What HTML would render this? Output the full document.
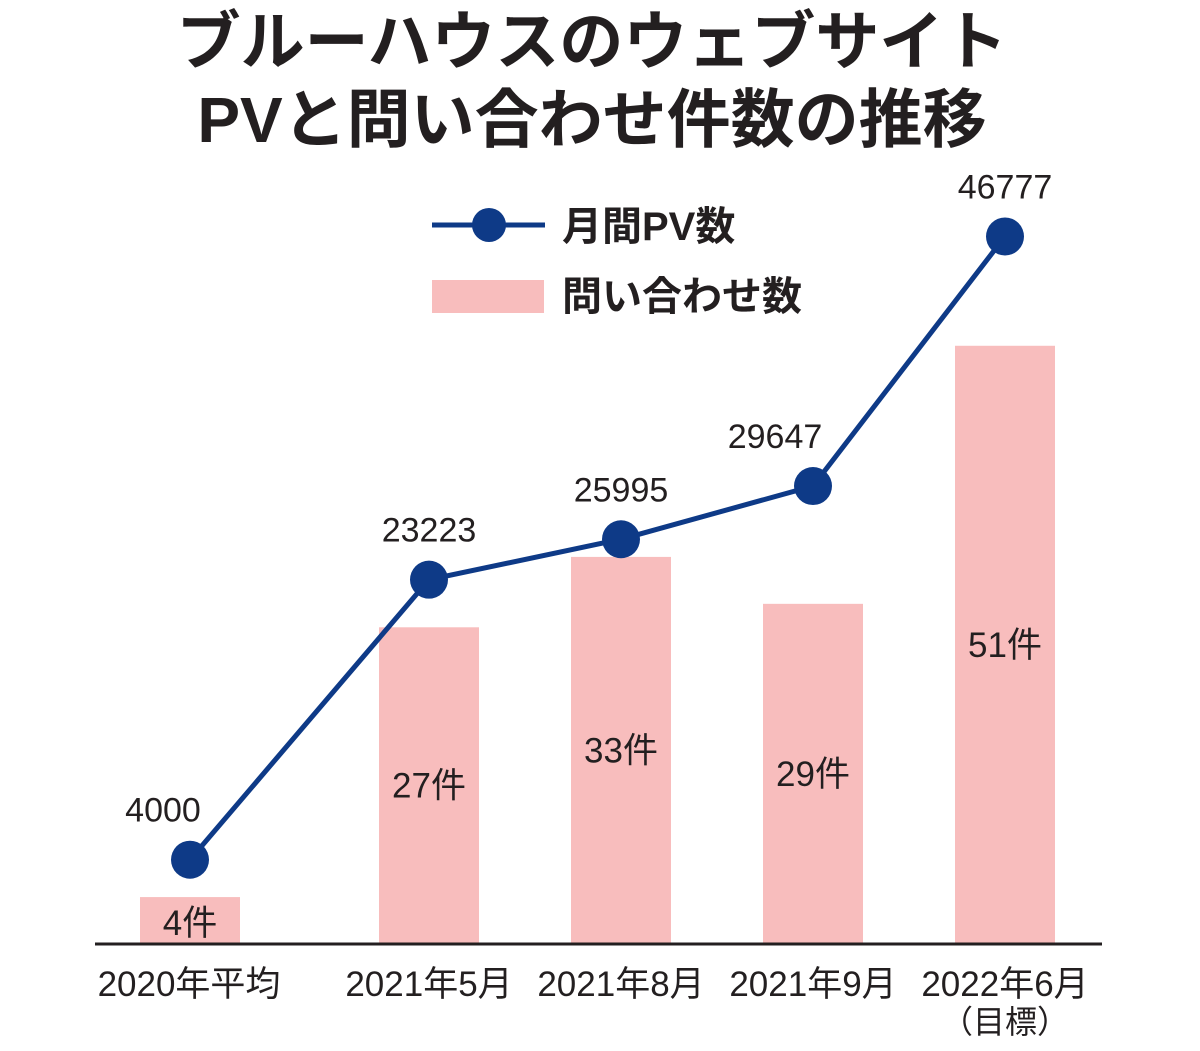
<!DOCTYPE html>
<html><head><meta charset="utf-8">
<style>
html,body{margin:0;padding:0;background:#fff;}
body{width:1200px;height:1046px;overflow:hidden;font-family:"Liberation Sans","Noto Sans CJK JP",sans-serif;}
</style></head>
<body>
<svg width="1200" height="1046" viewBox="0 0 1200 1046" xmlns="http://www.w3.org/2000/svg" style="font-family:'Liberation Sans','Noto Sans CJK JP',sans-serif">
<text x="592" y="64" text-anchor="middle" font-size="64" font-weight="bold" fill="#231f20">ブルーハウスのウェブサイト</text>
<text x="592" y="142" text-anchor="middle" font-size="64" font-weight="bold" fill="#231f20">PVと問い合わせ件数の推移</text>
<g>
<line x1="432" y1="225" x2="545" y2="225" stroke="#0e3a87" stroke-width="5"/>
<circle cx="489" cy="225" r="17" fill="#0e3a87"/>
<text x="562" y="240" font-size="40" font-weight="bold" fill="#231f20">月間PV数</text>
<rect x="432" y="280" width="112" height="33" fill="#f8bdbd"/>
<text x="562" y="310" font-size="40" font-weight="bold" fill="#231f20">問い合わせ数</text>
</g>
<g id="plot"></g>
<line x1="95" y1="944" x2="1102" y2="944" stroke="#231f20" stroke-width="3"/>
<text x="1005" y="1033" text-anchor="middle" font-size="32" fill="#231f20">（目標）</text>
</svg>
<script>
const categories = ["2020年平均","2021年5月","2021年8月","2021年9月","2022年6月"];
const inquiries = [4,27,33,29,51];
const pageViews = [4000,23223,25995,29647,46777];
const NS="http://www.w3.org/2000/svg";
const g=document.getElementById('plot');
const xPos=i=>i===0?190:429+(i-1)*192;
const yBar=v=>944-v*11.73;
const yLine=v=>918-v*0.01457;
const labelShift=i=>i===0?-27:(i===3?-38:0);
function mk(t,a){const e=document.createElementNS(NS,t);for(const k in a)e.setAttribute(k,a[k]);g.appendChild(e);return e;}
inquiries.forEach((v,i)=>{
  const r=mk('rect',{x:xPos(i)-50,y:yBar(v),width:100,height:944-yBar(v),fill:'#f8bdbd'});
  
  
});
inquiries.forEach((v,i)=>{
  const mid=(yBar(v)+944)/2+12;
  const ty=Math.max(mid,935);
  const t=mk('text',{x:xPos(i),y:i===0?935:mid,'text-anchor':'middle','font-size':35,fill:'#231f20'});
  t.textContent=v+'件';
  
  
});
const pts=pageViews.map((v,i)=>xPos(i)+','+yLine(v)).join(' ');
const pl=mk('polyline',{points:pts,fill:'none',stroke:'#0e3a87','stroke-width':5});


categories.forEach((c,i)=>{
  const t=mk('text',{x:xPos(i),y:996,'text-anchor':'middle','font-size':35,fill:'#231f20'});
  if(i===0)t.setAttribute('x',189);
  t.textContent=c;
  
  
});
pageViews.forEach((v,i)=>{
  const c=mk('circle',{cx:xPos(i),cy:yLine(v),r:19,fill:'#0e3a87'});
  
  
  const t=mk('text',{x:xPos(i)+labelShift(i),y:yLine(v)-38,'text-anchor':'middle','font-size':34,fill:'#231f20'});
  t.textContent=v;
  
  
});
</script>
</body></html>
